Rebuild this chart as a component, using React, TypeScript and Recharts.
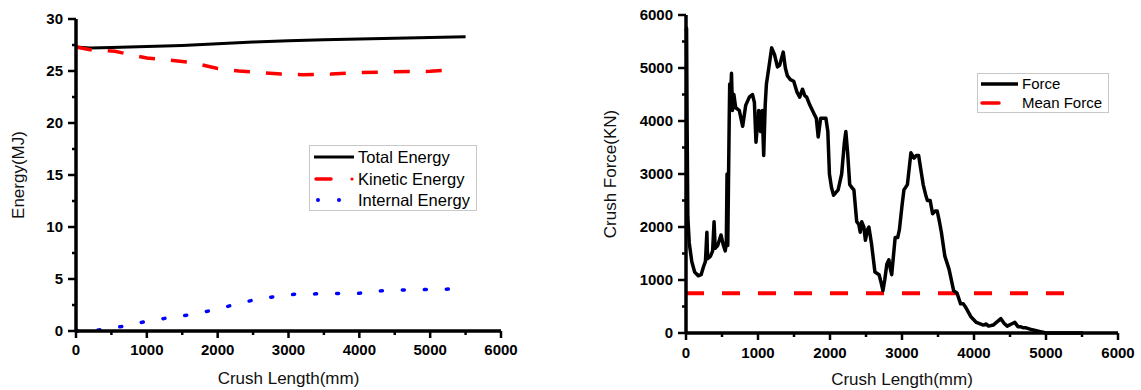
import React from "react";
import { LineChart, Line, XAxis, YAxis, Legend } from "recharts";

const FONT = "'Liberation Sans', Arial, sans-serif";

// left panel: energy vs crush length
const totalLength = [0, 200, 500, 1000, 1500, 2000, 2500, 3000, 3500, 4000, 4500, 5000, 5500];
const totalEnergy = [27.3, 27.2, 27.25, 27.35, 27.45, 27.62, 27.78, 27.9, 28.0, 28.07, 28.15, 28.22, 28.3];

const kineticLength = [0, 200, 550, 750, 1000, 1300, 1600, 2000, 2300, 2600, 2900, 3200, 3600, 4000, 4500, 5000, 5300];
const kineticEnergy = [27.3, 27.05, 26.9, 26.6, 26.25, 26.05, 25.85, 25.25, 25.0, 24.85, 24.7, 24.65, 24.7, 24.85, 24.92, 24.97, 25.1];

const internalLength = [0, 326, 638, 955, 1262, 1580, 1876, 2184, 2506, 2800, 3082, 3390, 3697, 4004, 4076, 4383, 4690, 5069, 5400];
const internalEnergy = [0, 0.1, 0.42, 0.87, 1.22, 1.54, 1.92, 2.44, 2.98, 3.3, 3.53, 3.57, 3.6, 3.62, 3.75, 3.9, 3.95, 4.0, 4.05];

// right panel: crush force vs crush length
const forceLength = [
  0, 8, 15, 25, 45, 80, 120, 170, 210, 243, 270, 290, 300, 340, 370, 390, 405, 440, 486, 520,
  545, 560, 570, 580, 600, 607, 615, 632, 645, 665, 690, 740, 787, 830, 880, 923, 950, 972, 990, 1010,
  1035, 1059, 1079, 1100, 1117, 1150, 1190, 1230, 1270, 1300, 1350, 1380, 1409, 1450, 1496, 1540, 1579, 1618, 1650, 1676,
  1720, 1773, 1810, 1836, 1870, 1943, 1970, 1992, 2020, 2050, 2080, 2113, 2162, 2200, 2220, 2245, 2274, 2300, 2332, 2371,
  2400, 2420, 2440, 2470, 2492, 2520, 2540, 2575, 2624, 2682, 2710, 2735, 2760, 2790, 2818, 2840, 2857, 2905, 2940, 2964,
  3000, 3027, 3075, 3124, 3168, 3200, 3231, 3294, 3330, 3353, 3391, 3425, 3460, 3489, 3520, 3547, 3595, 3654, 3717, 3765,
  3814, 3850, 3887, 3960, 4033, 4130, 4170, 4203, 4267, 4373, 4420, 4461, 4520, 4567, 4610, 4640, 4680, 4713, 4810, 4907,
  5004, 5514,
];
const forceValue = [
  5700, 5750, 4000, 2200, 1700, 1350, 1150, 1080, 1100, 1250, 1350, 1900, 1400, 1450, 1550, 2100, 1600, 1650, 1850, 1650,
  1550, 1700, 3000, 1650, 4000, 4700, 4300, 4900, 4200, 4500, 4250, 4200, 3900, 4300, 4450, 4500, 4350, 3600, 3900, 4200,
  3800, 4200, 3350, 4300, 4700, 5000, 5380, 5250, 5020, 5050, 5300, 5000, 4850, 4780, 4750, 4550, 4450, 4600, 4480, 4450,
  4300, 4150, 4050, 3700, 4050, 4050, 3800, 3000, 2750, 2600, 2650, 2700, 3000, 3600, 3800, 3400, 2800, 2750, 2700, 2100,
  2050, 1900, 2100, 2000, 1750, 1950, 2000, 1700, 1150, 1100, 950, 800, 1000, 1300, 1380, 1200, 1100, 1800, 1800, 1950,
  2400, 2700, 2800, 3400, 3300, 3350, 3350, 2800, 2600, 2500, 2500, 2250, 2300, 2300, 2100, 1900, 1450, 1200, 800, 750,
  550, 550, 480, 300, 200, 150, 170, 130, 150, 270, 180, 130, 170, 200, 120, 120, 100, 100, 60, 30,
  0, 0,
];

const meanLength = [0, 5400];
const meanForce = [750, 750];

const lengthTicks = [0, 500, 1000, 1500, 2000, 2500, 3000, 3500, 4000, 4500, 5000, 5500, 6000];
const energyTicks = [0, 2.5, 5, 7.5, 10, 12.5, 15, 17.5, 20, 22.5, 25, 27.5, 30];
const forceTicks = [0, 500, 1000, 1500, 2000, 2500, 3000, 3500, 4000, 4500, 5000, 5500, 6000];

function zip(xs: number[], ys: number[]) {
  return xs.map((x, i) => ({ x, y: ys[i] }));
}

function XTick(props: any) {
  const { x, y, payload, labelGap } = props;
  const major = payload.value % 1000 === 0;
  return (
    <g>
      <line x1={x} y1={y} x2={x} y2={y + (major ? 7 : 4)} stroke="#000" strokeWidth={2.5} />
      {major && (
        <text x={x} y={y + labelGap} textAnchor="middle" fontSize={15} fontWeight="bold" fontFamily={FONT} fill="#000">
          {payload.value}
        </text>
      )}
    </g>
  );
}

function YTick(props: any) {
  const { x, y, payload, step } = props;
  const major = payload.value % step === 0;
  return (
    <g>
      <line x1={x} y1={y} x2={x - (major ? 8 : 4)} y2={y} stroke="#000" strokeWidth={2.5} />
      {major && (
        <text x={x - 13} y={y + 5} textAnchor="end" fontSize={15} fontWeight="bold" fontFamily={FONT} fill="#000">
          {payload.value}
        </text>
      )}
    </g>
  );
}

function EnergyLegend() {
  return (
    <svg width={168} height={66} style={{ display: "block" }}>
      <rect x={0.5} y={0.5} width={167} height={65} fill="#fff" stroke="#c8c8c8" />
      <line x1={5} y1={12} x2={45} y2={12} stroke="#000" strokeWidth={3} />
      <line x1={7} y1={34} x2={22} y2={34} stroke="#ff0000" strokeWidth={3.5} strokeLinecap="round" />
      <circle cx={43} cy={34} r={1.6} fill="#ff0000" />
      <circle cx={9} cy={55} r={2} fill="#0000ff" />
      <circle cx={30} cy={55} r={2} fill="#0000ff" />
      <g fontFamily={FONT} fontSize={16.5} fill="#000">
        <text x={49} y={18}>Total Energy</text>
        <text x={49} y={40}>Kinetic Energy</text>
        <text x={49} y={61}>Internal Energy</text>
      </g>
    </svg>
  );
}

function ForceLegend() {
  return (
    <svg width={132} height={40} style={{ display: "block" }}>
      <rect x={0.5} y={0.5} width={131} height={39} fill="#fff" stroke="#c8c8c8" />
      <line x1={4} y1={11} x2={41} y2={11} stroke="#000" strokeWidth={3.5} />
      <line x1={5} y1={30} x2={22} y2={30} stroke="#ff0000" strokeWidth={3.5} strokeLinecap="round" />
      <g fontFamily={FONT} fontSize={15} fill="#000">
        <text x={45} y={16}>Force</text>
        <text x={45} y={35}>Mean Force</text>
      </g>
    </svg>
  );
}

const axisLabelStyle = { textAnchor: "middle" as const, fontSize: 17, fontFamily: FONT, fill: "#111" };

export default function App() {
  return (
    <div style={{ position: "absolute", left: 0, top: 0, width: 1141, height: 390, background: "#fff" }}>
      <div style={{ position: "absolute", left: 0, top: 0 }}>
        <LineChart width={520} height={390} margin={{ top: 19, right: 19, bottom: 0, left: 0 }}>
          <XAxis
            type="number"
            dataKey="x"
            domain={[0, 6000]}
            ticks={lengthTicks}
            interval={0}
            height={59}
            tickSize={0}
            tickMargin={0}
            tick={(p: any) => <XTick {...p} labelGap={24} />}
            axisLine={{ stroke: "#000", strokeWidth: 3.5 }}
            label={{ value: "Crush Length(mm)", position: "insideBottom", offset: 6, style: axisLabelStyle }}
          />
          <YAxis
            type="number"
            domain={[0, 30]}
            ticks={energyTicks}
            interval={0}
            width={76}
            tickSize={0}
            tickMargin={0}
            tick={(p: any) => <YTick {...p} step={5} />}
            axisLine={{ stroke: "#000", strokeWidth: 3.5 }}
            label={{ value: "Energy(MJ)", angle: -90, position: "insideLeft", offset: 18, style: axisLabelStyle }}
          />
          <Legend
            layout="horizontal"
            verticalAlign="middle"
            align="center"
            content={() => <EnergyLegend />}
            wrapperStyle={{ left: 309, top: 145, width: 168, height: 66 }}
          />
          <Line
            data={zip(totalLength, totalEnergy)}
            dataKey="y"
            type="linear"
            stroke="#000"
            strokeWidth={3}
            dot={false}
            isAnimationActive={false}
          />
          <Line
            data={zip(kineticLength, kineticEnergy)}
            dataKey="y"
            type="linear"
            stroke="#ff0000"
            strokeWidth={3.5}
            strokeDasharray="16 16"
            dot={false}
            isAnimationActive={false}
          />
          <Line
            data={zip(internalLength, internalEnergy)}
            dataKey="y"
            type="linear"
            stroke="#0000ff"
            strokeWidth={3.5}
            strokeDasharray="2 20"
            strokeLinecap="round"
            dot={false}
            isAnimationActive={false}
          />
        </LineChart>
      </div>

      <div style={{ position: "absolute", left: 560, top: 0 }}>
        <LineChart width={581} height={390} margin={{ top: 15, right: 23, bottom: 0, left: 50 }}>
          <XAxis
            type="number"
            dataKey="x"
            domain={[0, 6000]}
            ticks={lengthTicks}
            interval={0}
            height={57}
            tickSize={0}
            tickMargin={0}
            tick={(p: any) => <XTick {...p} labelGap={25} />}
            axisLine={{ stroke: "#000", strokeWidth: 3.5 }}
            label={{ value: "Crush Length(mm)", position: "insideBottom", offset: 5, style: axisLabelStyle }}
          />
          <YAxis
            type="number"
            domain={[0, 6000]}
            ticks={forceTicks}
            interval={0}
            width={76}
            tickSize={0}
            tickMargin={0}
            tick={(p: any) => <YTick {...p} step={1000} />}
            axisLine={{ stroke: "#000", strokeWidth: 3.5 }}
            label={{ value: "Crush Force(KN)", angle: -90, position: "insideLeft", offset: 0, style: axisLabelStyle }}
          />
          <Legend
            layout="horizontal"
            verticalAlign="middle"
            align="center"
            content={() => <ForceLegend />}
            wrapperStyle={{ left: 417, top: 73, width: 132, height: 40 }}
          />
          <Line
            data={zip(meanLength, meanForce)}
            dataKey="y"
            type="linear"
            stroke="#ff0000"
            strokeWidth={4}
            strokeDasharray="18 18"
            dot={false}
            isAnimationActive={false}
          />
          <Line
            data={zip(forceLength, forceValue)}
            dataKey="y"
            type="linear"
            stroke="#000"
            strokeWidth={3.5}
            strokeLinejoin="round"
            dot={false}
            isAnimationActive={false}
          />
        </LineChart>
      </div>
    </div>
  );
}
